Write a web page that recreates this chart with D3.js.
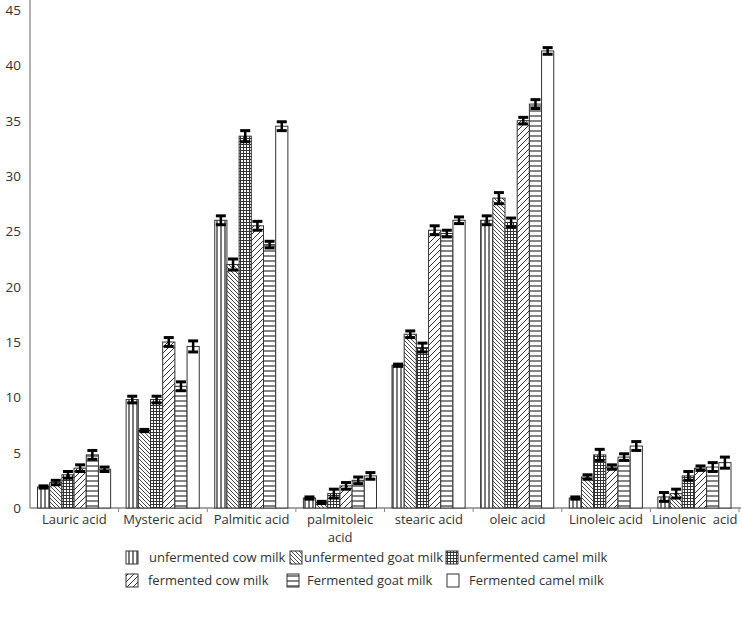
<!DOCTYPE html>
<html>
<head>
<meta charset="utf-8">
<title>Fatty acids</title>
<script src="https://cdn.jsdelivr.net/npm/d3@7"></script>
<style>
  body { margin: 0; background: #fff; }
  svg { font-family: "Open Sans", sans-serif; }
</style>
</head>
<body>
<svg id="chart" width="742" height="621"></svg>
<script>
// data
const categories = ["Lauric acid", "Mysteric acid", "Palmitic acid", "palmitoleic acid",
                    "stearic acid", "oleic acid", "Linoleic acid", "Linolenic  acid"];
const series = ["unfermented cow milk", "unfermented goat milk", "unfermented camel milk",
                "fermented cow milk", "Fermented goat milk", "Fermented camel milk"];
// values per series, one per category
const cowRaw     = [1.9,  9.8, 26.0, 0.9, 12.9, 26.0, 0.9, 1.0];
const goatRaw    = [2.3,  7.0, 22.0, 0.5, 15.7, 28.0, 2.8, 1.3];
const camelRaw   = [3.0,  9.8, 33.6, 1.3, 14.5, 25.8, 4.8, 2.9];
const cowFerm    = [3.6, 15.0, 25.5, 2.0, 25.1, 35.0, 3.7, 3.6];
const goatFerm   = [4.8, 11.0, 23.8, 2.5, 24.8, 36.5, 4.6, 3.7];
const camelFerm  = [3.5, 14.6, 34.5, 2.9, 26.0, 41.3, 5.6, 4.1];
// error (+/-) per series
const cowErr     = [0.1, 0.3, 0.4, 0.1, 0.1, 0.4, 0.1, 0.4];
const goatErr    = [0.2, 0.1, 0.5, 0.1, 0.3, 0.5, 0.2, 0.4];
const camelErr   = [0.3, 0.3, 0.5, 0.4, 0.4, 0.4, 0.5, 0.4];
const cowFermErr = [0.3, 0.4, 0.4, 0.3, 0.4, 0.3, 0.2, 0.2];
const goatFermErr= [0.4, 0.4, 0.3, 0.3, 0.3, 0.4, 0.3, 0.4];
const camelFermErr=[0.2, 0.5, 0.4, 0.3, 0.3, 0.3, 0.4, 0.5];
const yTicks = [0, 5, 10, 15, 20, 25, 30, 35, 40, 45];

const values = [cowRaw, goatRaw, camelRaw, cowFerm, goatFerm, camelFerm];
const errors = [cowErr, goatErr, camelErr, cowFermErr, goatFermErr, camelFermErr];
const fills = ["url(#pVert)", "url(#pBack)", "url(#pGrid)", "url(#pFwd)", "url(#pHoriz)", "#fff"];

const svg = d3.select("#chart");
const plotLeft = 30, plotRight = 739, plotTop = 10, plotBottom = 508;

// patterns
const defs = svg.append("defs");
function pattern(id, w, h, lines, sw) {
  const p = defs.append("pattern").attr("id", id)
    .attr("patternUnits", "userSpaceOnUse").attr("width", w).attr("height", h);
  p.append("rect").attr("width", w).attr("height", h).attr("fill", "#fff");
  lines.forEach(function(l){
    p.append("line").attr("x1", l[0]).attr("y1", l[1]).attr("x2", l[2]).attr("y2", l[3])
      .attr("stroke", "#333").attr("stroke-width", sw);
  });
}
pattern("pVert", 4, 4, [[1, 0, 1, 4]], 1.3);
pattern("pBack", 4, 4, [[0, 0, 4, 4], [-1, 3, 1, 5], [3, -1, 5, 1]], 0.9);
pattern("pGrid", 3, 3, [[0, 0.5, 3, 0.5], [0.5, 0, 0.5, 3]], 1);
pattern("pFwd", 6, 6, [[0, 6, 6, 0], [-1, 1, 1, -1], [5, 7, 7, 5]], 1);
pattern("pHoriz", 5, 5, [[0, 1, 5, 1]], 1.2);

const y = d3.scaleLinear().domain([0, 45]).range([plotBottom, plotTop]);
const x0 = d3.scaleBand().domain(categories).range([plotLeft, plotRight]).padding(0);
const x1 = d3.scaleBand().domain(series).range([7.5, x0.bandwidth() - 8]).padding(0);

// axes
svg.append("line").attr("x1", plotLeft).attr("x2", plotLeft).attr("y1", 0).attr("y2", plotBottom)
  .attr("stroke", "#888").attr("stroke-width", 1.3);
svg.append("line").attr("x1", plotLeft).attr("x2", plotRight + 2).attr("y1", plotBottom).attr("y2", plotBottom)
  .attr("stroke", "#888").attr("stroke-width", 1.3);
svg.selectAll(".xtick")
  .data(categories.map(function(c){ return x0(c); }).concat([plotRight]).slice(1))
  .enter().append("line")
  .attr("x1", function(d){ return d; }).attr("x2", function(d){ return d; })
  .attr("y1", plotBottom).attr("y2", plotBottom + 4)
  .attr("stroke", "#888");

svg.selectAll(".ylab").data(yTicks).enter().append("text")
  .attr("x", 21).attr("y", function(d){ return y(d) + 5; })
  .attr("text-anchor", "end").attr("font-size", "13.5px").attr("fill", "#333")
  .text(function(d){ return d; });

// category labels, wrapped like the original
categories.forEach(function(c){
  const cx = x0(c) + x0.bandwidth() / 2;
  const lines = c === "palmitoleic acid" ? ["palmitoleic", "acid"] : [c];
  lines.forEach(function(t, i){
    svg.append("text").attr("x", cx).attr("y", 524 + i * 18)
      .attr("text-anchor", "middle").attr("font-size", "13px").attr("fill", "#333")
      .style("white-space", "pre")
      .text(t);
  });
});

// bars
series.forEach(function(s, si){
  const g = svg.append("g");
  g.selectAll("rect").data(values[si]).enter().append("rect")
    .attr("x", function(d, i){ return x0(categories[i]) + x1(s); })
    .attr("y", function(d){ return y(d); })
    .attr("width", x1.bandwidth())
    .attr("height", function(d){ return plotBottom - y(d); })
    .attr("fill", fills[si]).attr("stroke", "#333").attr("stroke-width", 1);

  // error bars
  values[si].forEach(function(v, i){
    const e = errors[si][i];
    const cx = x0(categories[i]) + x1(s) + x1.bandwidth() / 2;
    const hw = 5;
    g.append("line").attr("x1", cx).attr("x2", cx).attr("y1", y(v + e)).attr("y2", y(v - e))
      .attr("stroke", "#000").attr("stroke-width", 2.5);
    [v + e, v - e].forEach(function(t){
      g.append("line").attr("x1", cx - hw).attr("x2", cx + hw).attr("y1", y(t)).attr("y2", y(t))
        .attr("stroke", "#000").attr("stroke-width", 3);
    });
  });
});

// legend
const legendItems = [
  {s: 0, sx: 126, tx: 149, y: 557},
  {s: 1, sx: 290, tx: 304, y: 557},
  {s: 2, sx: 446, tx: 459, y: 557},
  {s: 3, sx: 126, tx: 148, y: 580},
  {s: 4, sx: 287, tx: 307, y: 580},
  {s: 5, sx: 447, tx: 469, y: 580}
];
legendItems.forEach(function(it){
  svg.append("rect").attr("x", it.sx).attr("y", it.y - 6).attr("width", 12).attr("height", 13)
    .attr("fill", fills[it.s]).attr("stroke", "#333").attr("stroke-width", 1);
  svg.append("text").attr("x", it.tx).attr("y", it.y + 5)
    .attr("font-size", "13px").attr("fill", "#333")
    .text(series[it.s]);
});
</script>
</body>
</html>
